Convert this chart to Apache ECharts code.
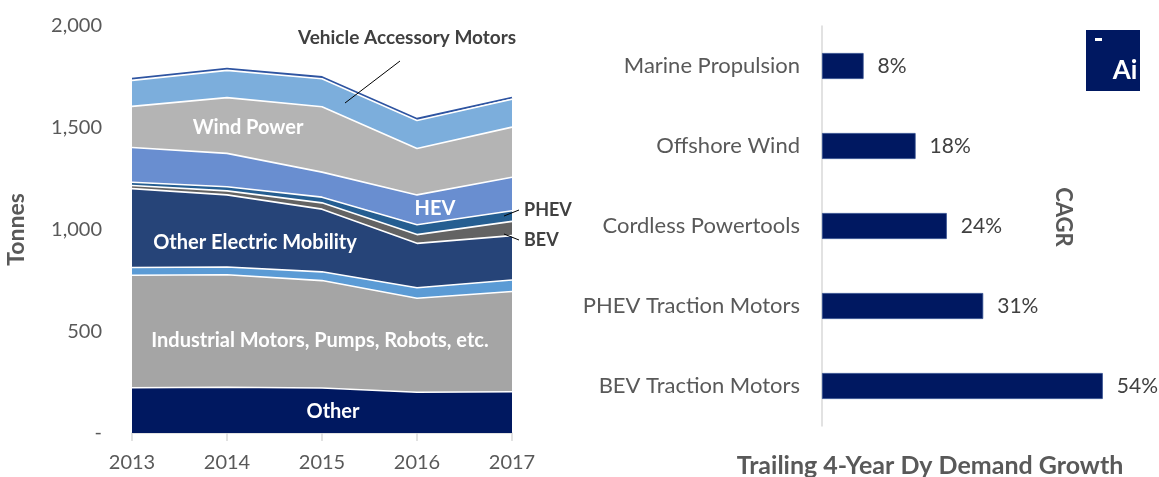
<!DOCTYPE html>
<html>
<head>
<meta charset="utf-8">
<script src="https://cdn.jsdelivr.net/npm/echarts@6/dist/echarts.min.js"></script>
<style>
  html, body { margin: 0; padding: 0; background: #fff; }
  #chart { width: 1159px; height: 477px; }
</style>
</head>
<body>
<div id="chart"></div>
<script>
// left chart: stacked tonnes by year
const years = ['2013', '2014', '2015', '2016', '2017'];
const other = [222, 225, 221, 200, 203];
const industrial = [553, 553, 528, 462, 492];
const smallBlue = [38, 38, 43, 52, 57];
const otherMobility = [388, 354, 308, 218, 218];
const bev = [15, 20, 31, 43, 70];
const phev = [16, 20, 28, 48, 52];
const hev = [171, 164, 123, 147, 165];
const wind = [202, 274, 321, 228, 246];
const accessory = [128, 134, 138, 138, 137];
const topThin = [8, 8, 8, 8, 8];
const yTicks = [0, 500, 1000, 1500, 2000];

// right chart: CAGR
const cagrCats = ['Marine Propulsion', 'Offshore Wind', 'Cordless Powertools', 'PHEV Traction Motors', 'BEV Traction Motors'];
const cagrVals = [8, 18, 24, 31, 54];

const FONT = 'Lato, "Open Sans", sans-serif';
const GREY = '#595959';

const chart = echarts.init(document.getElementById('chart'));

// stack layers, bottom to top
const layers = [
  { name: 'Other', data: other, color: '#001860', line: '#ffffff' },
  { name: 'Industrial Motors, Pumps, Robots, etc.', data: industrial, color: '#a5a5a5', line: '#ffffff' },
  { name: 'Other Blue', data: smallBlue, color: '#5b9bd5', line: '#ffffff' },
  { name: 'Other Electric Mobility', data: otherMobility, color: '#264478', line: '#ffffff' },
  { name: 'BEV', data: bev, color: '#636363', line: '#ffffff' },
  { name: 'PHEV', data: phev, color: '#255e91', line: '#ffffff' },
  { name: 'HEV', data: hev, color: '#698ed0', line: '#ffffff' },
  { name: 'Wind Power', data: wind, color: '#b4b4b4', line: '#ffffff' },
  { name: 'Vehicle Accessory Motors', data: accessory, color: '#7caedc', line: '#ffffff' },
  { name: 'Top', data: topThin, color: '#2e54a1', line: '#2e54a1' }
];

const areaSeries = layers.map((l, i) => ({
  name: l.name,
  type: 'line',
  stack: 'tonnes',
  xAxisIndex: 0,
  yAxisIndex: 0,
  data: l.data,
  showSymbol: false,
  z: 30 - i,
  lineStyle: { color: l.line, width: i === layers.length - 1 ? 2 : 1.6 },
  areaStyle: { color: l.color, opacity: 1 },
  itemStyle: { color: l.color },
  emphasis: { disabled: true }
}));

const whiteLbl = (text, x, y) => ({
  type: 'text', x: x, y: y, z: 100,
  style: { text: text, fill: '#fff', font: 'bold 20px ' + FONT, align: 'center', verticalAlign: 'middle' }
});
const darkLbl = (text, x, y, size) => ({
  type: 'text', x: x, y: y, z: 100,
  style: { text: text, fill: '#404040', font: 'bold ' + size + 'px ' + FONT, verticalAlign: 'middle' }
});
const leader = (x1, y1, x2, y2) => ({
  type: 'line', z: 100, shape: { x1: x1, y1: y1, x2: x2, y2: y2 }, style: { stroke: '#000', lineWidth: 1 }
});

const option = {
  animation: false,
  textStyle: { fontFamily: FONT },
  grid: [
    { left: 132, right: 647, top: 26, bottom: 44 },
    { left: 822, right: 25, top: 26, bottom: 51 }
  ],
  xAxis: [
    {
      type: 'category', gridIndex: 0, data: years, boundaryGap: false,
      axisLine: { lineStyle: { color: '#d9d9d9', width: 1.5 } },
      axisTick: { show: true, length: 8, lineStyle: { color: '#d9d9d9', width: 1.5 } },
      axisLabel: { color: GREY, fontSize: 20, margin: 20, fontFamily: FONT }
    },
    { type: 'value', gridIndex: 1, min: 0, max: 60, show: false }
  ],
  yAxis: [
    {
      type: 'value', gridIndex: 0, min: 0, max: 2000, interval: 500,
      axisLine: { show: false }, axisTick: { show: false }, splitLine: { show: false },
      axisLabel: {
        color: GREY, fontSize: 20, margin: 30, fontFamily: FONT,
        formatter: v => (yTicks.indexOf(v) === 0 ? '-' : v.toLocaleString('en-US'))
      },
      name: 'Tonnes', nameLocation: 'middle', nameRotate: 90, nameGap: 104,
      nameTextStyle: { color: GREY, fontSize: 23, fontWeight: 'bold', fontFamily: FONT }
    },
    {
      type: 'category', gridIndex: 1, data: cagrCats, inverse: true,
      axisLine: { lineStyle: { color: '#d9d9d9', width: 1.5 } },
      axisTick: { show: false },
      axisLabel: { color: GREY, fontSize: 22, margin: 22, fontFamily: FONT }
    }
  ],
  series: areaSeries.concat([
    {
      name: 'CAGR', type: 'bar', xAxisIndex: 1, yAxisIndex: 1,
      data: cagrVals, barWidth: 26,
      itemStyle: { color: '#001861', borderColor: '#2c4a8c', borderWidth: 0.8 },
      label: {
        show: true, position: 'right', distance: 14,
        formatter: p => p.value + '%',
        color: '#404040', fontSize: 21, fontFamily: FONT
      },
      emphasis: { disabled: true }
    }
  ]),
  graphic: [
    whiteLbl('Wind Power', 248, 128),
    whiteLbl('HEV', 435, 209),
    whiteLbl('Other Electric Mobility', 255, 243),
    whiteLbl('Industrial Motors, Pumps, Robots, etc.', 320, 341),
    whiteLbl('Other', 333, 412),
    darkLbl('Vehicle Accessory Motors', 298, 38, 19),
    leader(400, 61, 345, 103),
    darkLbl('PHEV', 524, 210, 18),
    leader(519, 210, 504, 216),
    darkLbl('BEV', 524, 240, 18),
    leader(519, 240, 504, 234),
    {
      type: 'text', x: 1063, y: 217, z: 100, rotation: -Math.PI / 2,
      style: { text: 'CAGR', fill: GREY, font: 'bold 22px ' + FONT, align: 'center', verticalAlign: 'middle' }
    },
    {
      type: 'text', x: 930, y: 466, z: 100,
      style: { text: 'Trailing 4-Year Dy Demand Growth', fill: GREY, font: 'bold 25px ' + FONT, align: 'center', verticalAlign: 'middle' }
    },
    { type: 'rect', z: 100, shape: { x: 1086, y: 30, width: 54, height: 61 }, style: { fill: '#001861' } },
    { type: 'rect', z: 101, shape: { x: 1095, y: 38, width: 7, height: 3 }, style: { fill: '#fff' } },
    {
      type: 'text', x: 1125, y: 71, z: 101,
      style: { text: 'Ai', fill: '#fff', font: 'bold 26px ' + FONT, align: 'center', verticalAlign: 'middle' }
    }
  ]
};

chart.setOption(option);
</script>
</body>
</html>
